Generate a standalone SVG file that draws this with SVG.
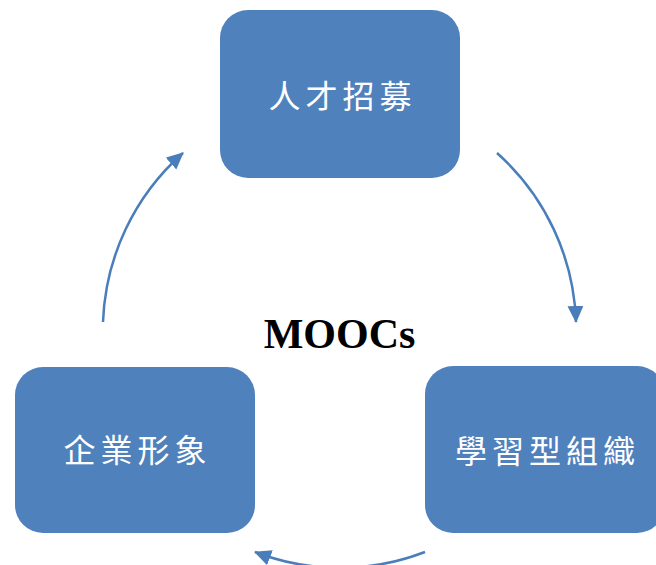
<svg xmlns="http://www.w3.org/2000/svg" width="656" height="565" viewBox="0 0 656 565">
<style>
.box{fill:#4F81BD}
.lbl{fill:#ffffff;font-family:"Noto Sans CJK TC","Noto Sans CJK SC",sans-serif;font-size:32px;letter-spacing:5px;text-anchor:middle}
.arc{fill:none;stroke:#4A7EBB;stroke-width:2.5}
.title{font-family:"Liberation Serif","Times New Roman",serif;font-weight:bold;font-size:42px;text-anchor:middle;fill:#000}
</style>
<defs>
<marker id="ah" markerUnits="userSpaceOnUse" markerWidth="18" markerHeight="17" refX="16" refY="8" orient="auto">
<path d="M0,0 L17,8 L0,16 z" fill="#4A7EBB"/>
</marker>
</defs>
<rect width="656" height="565" fill="#ffffff"/>
<g id="connectors">
<path class="arc" d="M103 322 A237 237 0 0 1 183 153" marker-end="url(#ah)"/>
<path class="arc" d="M497 153 A237 237 0 0 1 576 322" marker-end="url(#ah)"/>
<path class="arc" d="M425 552 A237 237 0 0 1 255 552" marker-end="url(#ah)"/>
</g>
<g id="node-recruit">
<rect class="box" x="220" y="10" width="240" height="168" rx="28"/>
<text class="lbl" x="342.5" y="108">人才招募</text>
</g>
<g id="node-learning">
<rect class="box" x="425" y="366" width="240" height="167" rx="28"/>
<text class="lbl" x="547.5" y="463">學習型組織</text>
</g>
<g id="node-image">
<rect class="box" x="15" y="367" width="240" height="166" rx="28"/>
<text class="lbl" x="137.5" y="462">企業形象</text>
</g>
<text id="center" class="title" x="339.5" y="348">MOOCs</text>
</svg>
